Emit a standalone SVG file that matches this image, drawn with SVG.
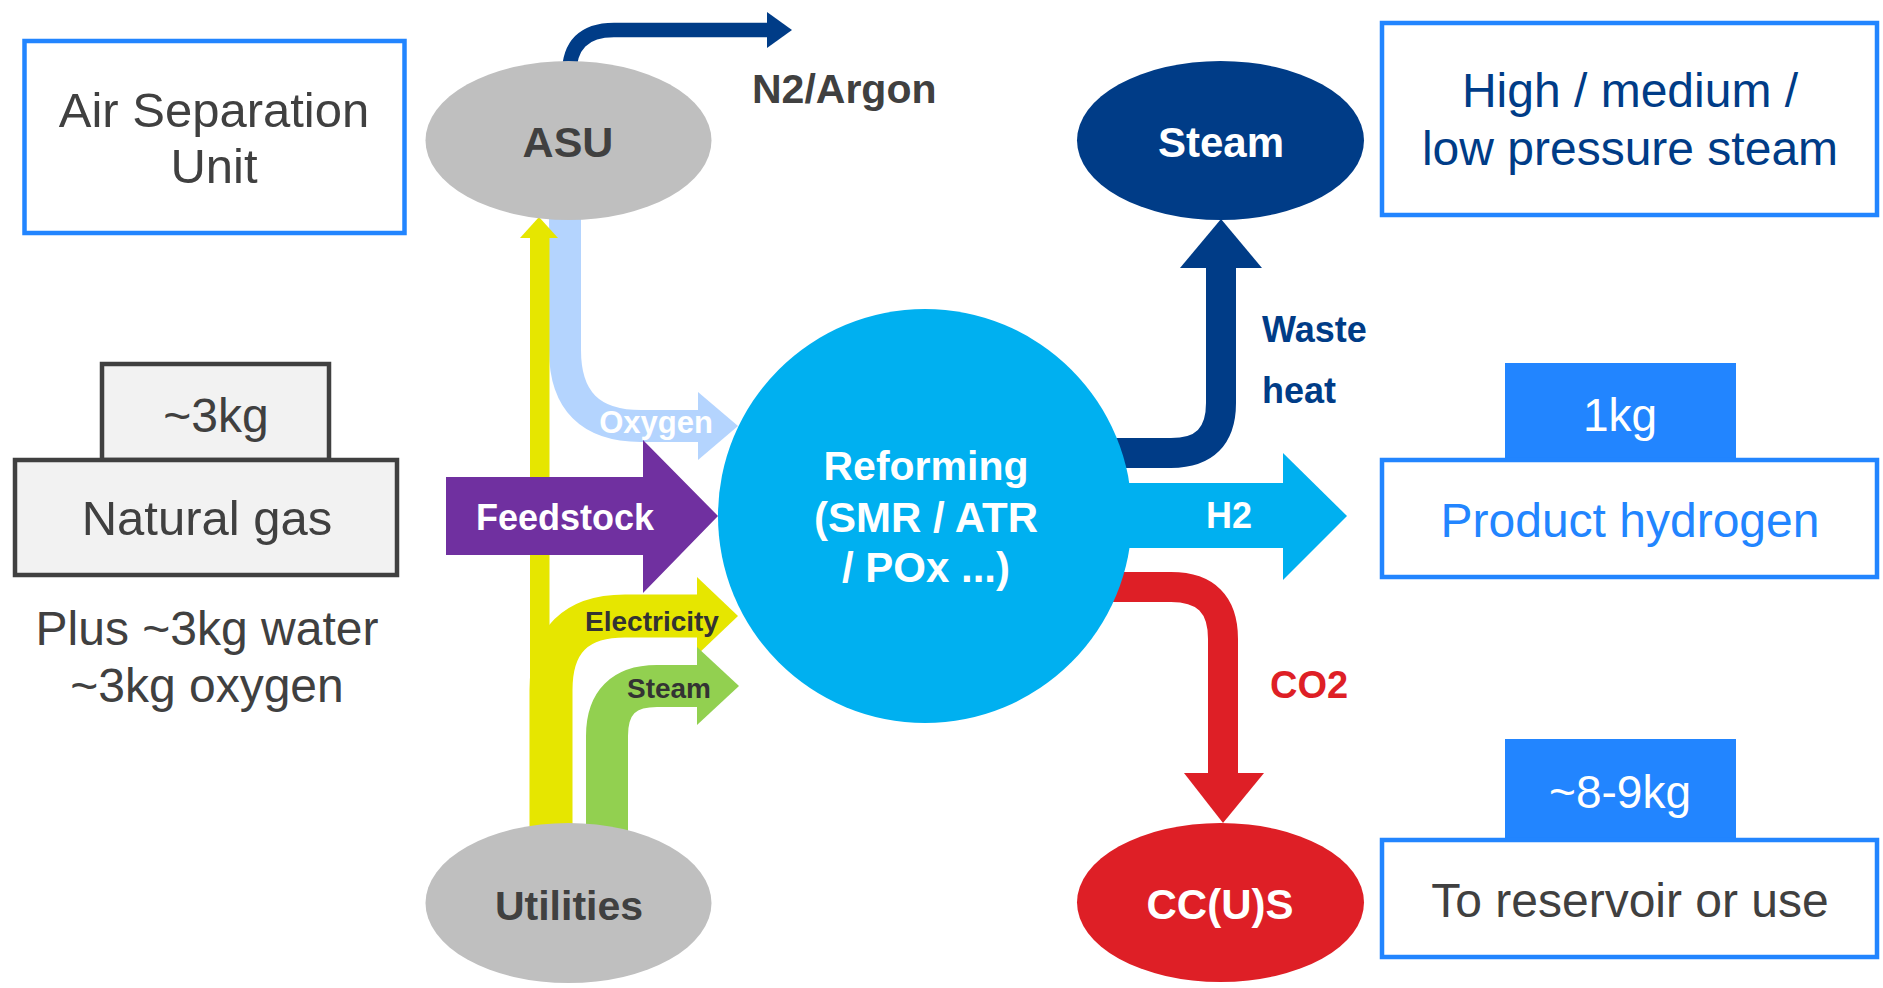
<svg xmlns="http://www.w3.org/2000/svg" width="1883" height="988" viewBox="0 0 1883 988">
<defs>
<style>
text{font-family:"Liberation Sans",Arial,sans-serif}
.box{fill:#fff;stroke:#2285FF;stroke-width:4.5}
.gbox{fill:#F2F2F2;stroke:#404040;stroke-width:4.5}
.tag{fill:#2285FF}
.dark{fill:#404040}
.b{font-weight:bold}
.m{text-anchor:middle}
.w{fill:#fff}
</style>
</defs>
<rect width="1883" height="988" fill="#fff"/>

<g id="connectors">
  <!-- N2/Argon -->
  <path d="M569 100 L569 75 Q569 30 614 30 L769 30" fill="none" stroke="#003C87" stroke-width="14.5"/>
  <polygon points="767,12 792,30 767,48" fill="#003C87"/>
  <!-- Oxygen -->
  <path d="M565 200 L565 350 Q565 426 641 426 L700 426" fill="none" stroke="#B4D4FE" stroke-width="32"/>
  <polygon points="698,392 738,426 698,460" fill="#B4D4FE"/>
  <!-- Electricity -->
  <path d="M551 840 L551 690 Q551 616 625 616 L699 616" fill="none" stroke="#E6E600" stroke-width="43"/>
  <polygon points="697,577 738,616 697,655" fill="#E6E600"/>
  <!-- Utilities to ASU -->
  <rect x="530" y="236" width="19.5" height="600" fill="#E6E600"/>
  <polygon points="520,238 558,238 539,217" fill="#E6E600"/>
  <!-- Steam -->
  <path d="M607 840 L607 736 Q607 686 657 686 L699 686" fill="none" stroke="#92D050" stroke-width="42"/>
  <polygon points="697,647 739,686 697,725" fill="#92D050"/>
  <!-- Feedstock -->
  <polygon points="446,477 643,477 643,440 718,516 643,593 643,555 446,555" fill="#7030A0"/>
  <!-- Waste heat -->
  <path d="M1100 453 L1171 453 Q1221 453 1221 403 L1221 266" fill="none" stroke="#003C87" stroke-width="30"/>
  <polygon points="1180,268 1262,268 1221,219" fill="#003C87"/>
  <!-- H2 -->
  <rect x="1100" y="483" width="185" height="65" fill="#00B0F0"/>
  <polygon points="1283,453 1347,516 1283,580" fill="#00B0F0"/>
  <!-- CO2 -->
  <path d="M1100 587 L1171 587 Q1223 587 1223 639 L1223 775" fill="none" stroke="#DE1F26" stroke-width="30"/>
  <polygon points="1184,773 1264,773 1223,823" fill="#DE1F26"/>
  <!-- connector labels -->
  <text x="656" y="433" class="b m w" font-size="31">Oxygen</text>
  <text x="565" y="530" class="b m w" font-size="36">Feedstock</text>
  <text x="652" y="631" class="b m" font-size="28" fill="#333">Electricity</text>
  <text x="669" y="698" class="b m" font-size="28" fill="#333">Steam</text>
  <text x="752" y="103" class="b dark" font-size="41">N2/Argon</text>
  <text x="1262" y="342" class="b" font-size="36" fill="#003C87">Waste</text>
  <text x="1262" y="403" class="b" font-size="36" fill="#003C87">heat</text>
  <text x="1229" y="528" class="b m w" font-size="36">H2</text>
  <text x="1270" y="698" class="b" font-size="38" fill="#DE1F26">CO2</text>
</g>

<g id="asu-label">
  <rect x="24.5" y="41" width="380" height="192" class="box"/>
  <text x="214" y="127" class="m dark" font-size="49">Air Separation</text>
  <text x="214" y="183" class="m dark" font-size="49">Unit</text>
</g>

<g id="natural-gas">
  <rect x="102" y="364" width="227" height="96" class="gbox"/>
  <text x="216" y="432" class="m dark" font-size="48">~3kg</text>
  <rect x="15" y="460" width="382" height="115" class="gbox"/>
  <text x="207" y="535" class="m dark" font-size="49">Natural gas</text>
  <text x="207" y="645" class="m dark" font-size="48">Plus ~3kg water</text>
  <text x="207" y="702" class="m dark" font-size="48">~3kg oxygen</text>
</g>

<g id="asu">
  <ellipse cx="568.5" cy="140.5" rx="143" ry="79.5" fill="#BFBFBF"/>
  <text x="568" y="157" class="b m dark" font-size="43">ASU</text>
</g>

<g id="utilities">
  <ellipse cx="568.5" cy="903" rx="143" ry="80" fill="#BFBFBF"/>
  <text x="569" y="920" class="b m dark" font-size="41">Utilities</text>
</g>

<g id="reforming">
  <circle cx="925" cy="516" r="207" fill="#00B0F0"/>
  <text x="926" y="480" class="b m w" font-size="41">Reforming</text>
  <text x="926" y="532" class="b m w" font-size="42">(SMR / ATR</text>
  <text x="926" y="582" class="b m w" font-size="42">/ POx ...)</text>
</g>

<g id="steam">
  <ellipse cx="1220.5" cy="140.5" rx="143.5" ry="79.5" fill="#003C87"/>
  <text x="1221" y="157" class="b m w" font-size="42">Steam</text>
</g>

<g id="steam-label">
  <rect x="1382" y="23" width="495" height="192" class="box"/>
  <text x="1630" y="107" class="m" font-size="48" fill="#003C87">High / medium /</text>
  <text x="1630" y="165" class="m" font-size="48" fill="#003C87">low pressure steam</text>
</g>

<g id="product-hydrogen">
  <rect x="1505" y="363" width="231" height="99" class="tag"/>
  <text x="1620" y="431" class="m w" font-size="46">1kg</text>
  <rect x="1382" y="460" width="495" height="117" class="box"/>
  <text x="1630" y="537" class="m" font-size="48" fill="#2285FF">Product hydrogen</text>
</g>

<g id="ccus">
  <ellipse cx="1220.5" cy="902.5" rx="143.5" ry="79.5" fill="#DE1F26"/>
  <text x="1220" y="919" class="b m w" font-size="42">CC(U)S</text>
</g>

<g id="reservoir">
  <rect x="1505" y="739" width="231" height="103" class="tag"/>
  <text x="1620" y="808" class="m w" font-size="46">~8-9kg</text>
  <rect x="1382" y="840" width="495" height="117" class="box"/>
  <text x="1630" y="917" class="m dark" font-size="48">To reservoir or use</text>
</g>
</svg>
